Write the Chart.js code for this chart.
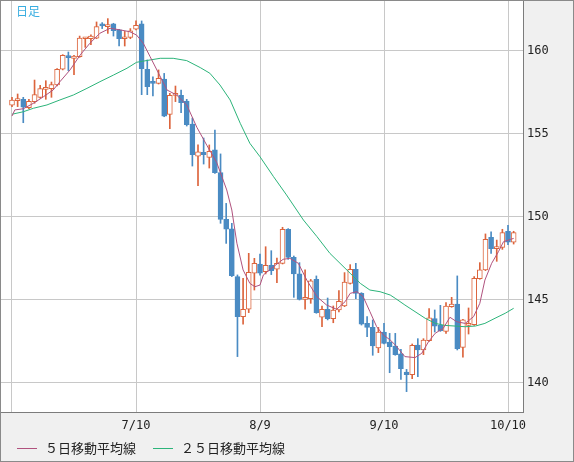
<!DOCTYPE html>
<html lang="ja">
<head>
<meta charset="utf-8">
<title>日足</title>
<script src="https://cdn.jsdelivr.net/npm/chart.js@4.4.1/dist/chart.umd.min.js"></script>
<style>
  html, body { margin: 0; padding: 0; background: #f0f0f0; }
  #wrap { width: 574px; height: 462px; }
</style>
</head>
<body>
<div id="wrap"><canvas id="chart" width="574" height="462"></canvas></div>
<script>
// ====== 日足データ (6/10 〜 10/11, 1本 = 1営業日) ======
const opens = [
  156.73, 157.01, 157.09, 156.59, 156.95, 157.21, 157.69, 157.73, 157.95, 158.90,
  159.66, 159.56, 159.66, 160.74, 160.74, 160.78, 161.55, 161.47, 161.63, 161.27,
  160.74, 160.82, 161.31, 161.63, 158.90, 158.13, 158.05, 158.31, 156.18, 157.33,
  157.33, 156.99, 155.60, 153.67, 153.90, 153.59, 154.04, 152.67, 149.86, 149.28,
  146.41, 143.99, 144.44, 146.61, 147.17, 146.71, 147.09, 146.85, 147.21, 149.26,
  147.57, 146.57, 145.04, 145.08, 146.24, 143.96, 144.44, 143.88, 144.40, 144.64,
  146.00, 146.85, 145.40, 143.59, 143.35, 142.11, 143.07, 142.47, 142.23, 141.75,
  140.66, 140.50, 142.29, 141.99, 142.55, 143.88, 143.47, 143.11, 144.60, 144.76,
  142.15, 143.47, 143.51, 146.29, 146.81, 148.78, 148.09, 148.17, 149.14, 148.49
];
const highs = [
  157.21, 157.41, 157.21, 157.09, 158.25, 157.93, 158.21, 158.13, 158.94, 159.78,
  159.94, 159.74, 160.90, 160.82, 160.98, 161.75, 161.71, 161.95, 161.67, 161.31,
  161.18, 161.35, 161.81, 161.81, 159.46, 158.45, 158.86, 158.65, 157.45, 157.89,
  157.65, 157.09, 155.96, 154.34, 154.76, 154.34, 155.24, 153.80, 150.82, 149.62,
  146.51, 146.31, 147.81, 147.51, 147.77, 148.21, 147.97, 147.53, 149.38, 149.30,
  147.65, 147.25, 146.81, 146.24, 146.45, 144.64, 145.12, 144.64, 145.56, 146.65,
  147.13, 147.21, 145.44, 144.00, 143.80, 143.35, 143.59, 142.99, 142.99, 142.03,
  140.82, 142.35, 142.67, 142.67, 144.48, 144.40, 144.68, 144.84, 145.16, 146.45,
  143.84, 144.52, 146.41, 147.25, 148.98, 149.10, 148.61, 149.26, 149.50, 149.14
];
const lows = [
  156.65, 156.65, 155.68, 156.53, 156.85, 157.17, 157.09, 157.21, 157.89, 158.86,
  158.82, 158.57, 159.62, 160.22, 160.38, 160.74, 161.35, 161.06, 160.90, 160.30,
  160.30, 160.74, 161.27, 157.37, 157.37, 157.29, 158.01, 156.04, 155.32, 156.95,
  156.29, 155.48, 153.07, 151.89, 153.19, 152.95, 152.63, 149.62, 148.41, 146.41,
  141.59, 143.55, 144.24, 145.60, 146.49, 146.57, 146.53, 146.04, 147.17, 147.45,
  145.16, 145.00, 144.44, 144.80, 144.20, 143.39, 143.80, 143.63, 144.28, 144.60,
  145.96, 145.08, 143.49, 142.79, 141.67, 141.83, 142.35, 140.62, 141.67, 140.22,
  139.48, 140.26, 140.38, 141.71, 142.51, 143.07, 143.11, 142.99, 144.56, 141.99,
  141.55, 142.95, 143.47, 146.25, 146.77, 147.81, 147.33, 148.05, 148.33, 148.37
];
const closes = [
  157.05, 157.09, 156.61, 156.97, 157.37, 157.73, 157.81, 157.97, 158.90, 159.74,
  159.60, 159.70, 160.78, 160.78, 160.90, 161.47, 161.51, 161.59, 161.22, 160.74,
  160.78, 161.22, 161.55, 158.94, 157.85, 158.05, 158.35, 156.08, 157.33, 157.45,
  156.89, 155.56, 153.76, 153.92, 153.76, 153.96, 152.67, 149.86, 149.26, 146.47,
  143.99, 144.44, 146.67, 147.21, 146.61, 147.09, 146.77, 147.21, 149.26, 147.57,
  146.57, 145.04, 145.12, 146.16, 144.24, 144.44, 143.88, 144.40, 144.92, 146.08,
  146.85, 145.40, 143.55, 143.35, 142.23, 143.07, 142.39, 142.19, 141.71, 140.86,
  140.50, 142.27, 141.99, 142.59, 143.92, 143.43, 143.15, 144.64, 144.76, 142.07,
  143.80, 143.55, 146.31, 146.81, 148.65, 148.09, 148.17, 149.06, 148.49, 149.06
];

// 移動平均線 (チャートから読み取り, x = 営業日番号)
const ma5Days = [
  0, 0.5, 2, 3.8, 5.6, 7.3, 8.5, 10.3, 12.1, 13.8,
  15.6, 17.4, 19.2, 20.9, 22.1, 23.3, 24.5, 26, 27.5, 29.2,
  31, 32.8, 34.6, 36.3, 38.1, 39, 39.9, 41, 42.2, 43.1,
  44, 44.6, 46.4, 48.1, 49.3, 50.8, 52.3, 54.1, 55.8, 57.6,
  59.1, 60, 61.2, 62.3, 63.5, 64.7, 65.9, 67.1, 68, 69.7,
  71.5, 72.7, 73.9, 75.1, 76.5, 77.7, 78.9, 80.4, 81.9, 83,
  83.9, 85.1, 86.3, 87.2, 88.4, 89
];
const ma5 = [
  156.08, 156.45, 156.52, 156.85, 157.25, 157.65, 158.15, 158.86, 159.76, 160.46,
  161.07, 161.37, 161.27, 161.16, 160.96, 160.46, 159.66, 158.66, 157.65, 157.35,
  156.75, 155.40, 154.30, 153.30, 151.63, 150.42, 148.42, 146.81, 146.00, 145.80,
  145.90, 146.51, 147.01, 147.45, 147.51, 147.21, 146.20, 145.20, 144.70, 144.44,
  144.90, 145.40, 145.50, 145.20, 144.30, 143.39, 142.89, 142.59, 142.29, 141.59,
  141.53, 141.79, 142.49, 143.00, 143.29, 143.96, 143.69, 143.59, 144.00, 144.80,
  146.20, 147.21, 147.91, 148.51, 148.65, 148.71
];
const ma25Days = [
  0, 2, 3.8, 6.2, 8.5, 10.9, 13.3, 15.6, 18, 20.4,
  22.1, 24.5, 26.3, 28.6, 31, 33.4, 35.1, 36.9, 38.7, 40.5,
  42.2, 44, 46.4, 48.7, 51.7, 54.1, 56.4, 58.2, 60, 61.8,
  63.5, 65.3, 67.1, 68, 69.7, 71.5, 73.3, 75.1, 76.8, 78.6,
  80.4, 82.2, 83.9, 85.7, 87.5, 89
];
const ma25 = [
  156.19, 156.34, 156.55, 156.75, 157.05, 157.35, 157.75, 158.15, 158.55, 158.96,
  159.32, 159.46, 159.56, 159.56, 159.42, 159.00, 158.66, 157.95, 157.05, 155.64,
  154.44, 153.63, 152.43, 151.33, 149.82, 148.82, 147.81, 147.21, 146.61, 146.00,
  145.60, 145.50, 145.30, 145.10, 144.70, 144.30, 143.90, 143.59, 143.47, 143.43,
  143.39, 143.43, 143.59, 143.90, 144.20, 144.50
];

// 目盛り
const gridDays = [0, 22, 44, 66, 88];
const tickLabels = ['', '7/10', '8/9', '9/10', '10/10'];
const priceTicks = [140, 145, 150, 155, 160];

const UP = '#dc643c';
const DOWN = '#4a8bc3';
const isUp = opens.map((o, i) => closes[i] >= o);

// ====== 枠・背景・タイトル・凡例 ======
const framePlugin = {
  id: 'frame',
  beforeDraw(chart) {
    const { ctx, chartArea: a } = chart;
    ctx.save();
    ctx.fillStyle = '#f0f0f0';
    ctx.fillRect(0, 0, chart.width, chart.height);
    ctx.fillStyle = '#ffffff';
    ctx.fillRect(a.left, a.top, a.right - a.left, a.bottom - a.top);
    ctx.restore();
  },
  afterDraw(chart) {
    const { ctx, chartArea: a } = chart;
    ctx.save();
    ctx.strokeStyle = '#7c7c7c';
    ctx.lineWidth = 1;
    ctx.strokeRect(a.left + 0.5, a.top + 0.5, a.right - a.left, a.bottom - a.top);
    ctx.strokeStyle = '#8a8a8a';
    ctx.strokeRect(0.5, 0.5, chart.width - 1, chart.height - 1);

    ctx.fillStyle = '#38ade0';
    ctx.font = '12px "Noto Sans CJK JP"';
    ctx.textBaseline = 'alphabetic';
    ctx.fillText('日足', 16, 16);

    // 凡例
    const y = 448;
    let x = 17;
    ctx.font = '13px "Noto Sans CJK JP"';
    ctx.textBaseline = 'middle';
    chart.data.datasets.filter(ds => ds.type === 'line').forEach(ds => {
      ctx.strokeStyle = ds.borderColor;
      ctx.beginPath();
      ctx.moveTo(x, y + 0.5);
      ctx.lineTo(x + 20, y + 0.5);
      ctx.stroke();
      ctx.fillStyle = '#222';
      ctx.fillText(ds.label, x + 28, y);
      x += 28 + ctx.measureText(ds.label).width + 17;
    });
    ctx.restore();
  }
};

const ctx = document.getElementById('chart').getContext('2d');
new Chart(ctx, {
  type: 'bar',
  data: {
    datasets: [
      {
        label: '５日移動平均線',
        type: 'line',
        data: ma5Days.map((d, i) => ({ x: d, y: ma5[i] })),
        borderColor: '#b0527e',
        borderWidth: 1,
        pointRadius: 0,
        tension: 0,
        order: 0
      },
      {
        label: '２５日移動平均線',
        type: 'line',
        data: ma25Days.map((d, i) => ({ x: d, y: ma25[i] })),
        borderColor: '#2cb47a',
        borderWidth: 1,
        pointRadius: 0,
        tension: 0,
        order: 0
      },
      {
        label: 'body',
        data: opens.map((o, i) => ({ x: i, y: [o, closes[i]] })),
        backgroundColor: isUp.map(u => (u ? '#ffffff' : DOWN)),
        borderColor: isUp.map(u => (u ? UP : DOWN)),
        borderWidth: 1,
        borderSkipped: false,
        barThickness: 5,
        minBarLength: 2,
        grouped: false,
        order: 1
      },
      {
        label: 'wick',
        data: lows.map((l, i) => ({ x: i, y: [l, highs[i]] })),
        backgroundColor: isUp.map(u => (u ? UP : DOWN)),
        borderWidth: 0,
        barThickness: 1,
        grouped: false,
        order: 2
      }
    ]
  },
  options: {
    responsive: false,
    animation: false,
    devicePixelRatio: 1,
    events: [],
    layout: { padding: 0 },
    scales: {
      x: {
        type: 'linear',
        offset: false,
        min: -2.129,
        max: 90.66,
        afterBuildTicks: (scale) => { scale.ticks = gridDays.map(v => ({ value: v })); },
        afterFit: (scale) => {
          scale.height = 50;
          scale.paddingLeft = 0;
          scale.paddingRight = 0;
        },
        grid: { color: '#c8c8c8', drawTicks: false, offset: false },
        border: { display: false },
        ticks: {
          autoSkip: false,
          maxRotation: 0,
          padding: 7,
          color: '#222',
          font: { family: '"DejaVu Sans Mono"', size: 12 },
          callback: (v, i) => tickLabels[i]
        }
      },
      y: {
        type: 'linear',
        position: 'right',
        min: 138.253,
        max: 163.072,
        afterBuildTicks: (scale) => { scale.ticks = priceTicks.map(v => ({ value: v })); },
        afterFit: (scale) => {
          scale.width = 51;
          scale.paddingTop = 0;
          scale.paddingBottom = 0;
        },
        grid: { color: '#c8c8c8', drawTicks: false },
        border: { display: false },
        ticks: {
          padding: 4,
          color: '#222',
          font: { family: '"DejaVu Sans Mono"', size: 12 }
        }
      }
    },
    plugins: {
      tooltip: { enabled: false },
      legend: { display: false }
    }
  },
  plugins: [framePlugin]
});
</script>
</body>
</html>
